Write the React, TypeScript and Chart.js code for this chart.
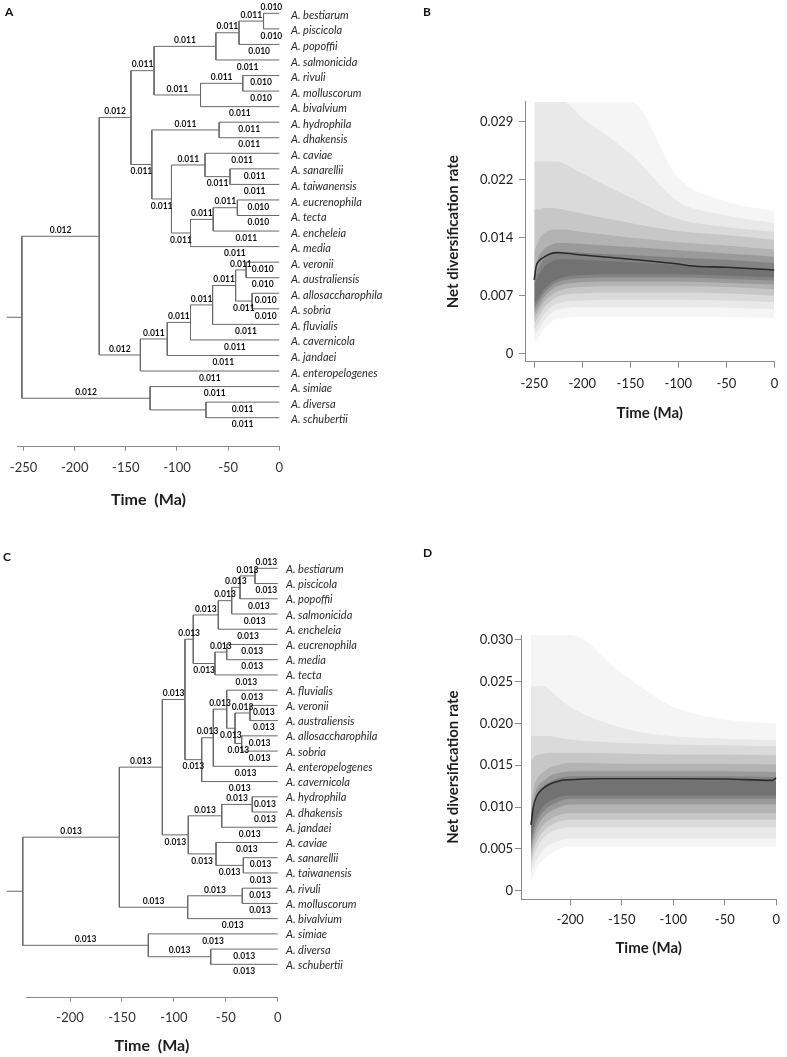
import React, { useEffect, useRef } from 'react';
import { Chart, registerables } from 'chart.js';

Chart.register(...registerables);
Chart.defaults.font.family = 'Lato, "Open Sans", sans-serif';

// ======================= DATA =======================
// ---- Panel A: time-calibrated tree (name, child1, child2, node age in Ma, branch rate, label side) ----
const TIPS_A = [
  'A. bestiarum', 'A. piscicola', 'A. popoffii', 'A. salmonicida', 'A. rivuli', 'A. molluscorum',
  'A. bivalvium', 'A. hydrophila', 'A. dhakensis', 'A. caviae', 'A. sanarellii', 'A. taiwanensis',
  'A. eucrenophila', 'A. tecta', 'A. encheleia', 'A. media', 'A. veronii', 'A. australiensis',
  'A. allosaccharophila', 'A. sobria', 'A. fluvialis', 'A. cavernicola', 'A. jandaei',
  'A. enteropelogenes', 'A. simiae', 'A. diversa', 'A. schubertii',
];
const TIP_RATES_A = [
  '0.010', '0.010', '0.010', '0.011', '0.010', '0.010', '0.011', '0.011', '0.011', '0.011',
  '0.011', '0.011', '0.010', '0.010', '0.011', '0.011', '0.010', '0.010', '0.010', '0.010',
  '0.011', '0.011', '0.011', '0.011', '0.011', '0.011', '0.011',
];
const TIP_LABEL_ABOVE_A = [0];
const NODES_A: [string, number | string, number | string, number, string, string][] = [
  ['N6', 0, 1, -15.4, '0.011', 'a'],
  ['N5', 'N6', 2, -39.4, '0.011', 'a'],
  ['N4', 'N5', 3, -62.0, '0.011', 'a'],
  ['N8', 4, 5, -35.7, '0.011', 'a'],
  ['N7', 'N8', 6, -77.0, '0.011', 'a'],
  ['N3', 'N4', 'N7', -122.4, '0.011', 'a'],
  ['N10', 7, 8, -58.8, '0.011', 'a'],
  ['N13', 10, 11, -48.2, '0.011', 'b'],
  ['N12', 9, 'N13', -72.6, '0.011', 'a'],
  ['N16', 12, 13, -41.0, '0.011', 'a'],
  ['N15', 'N16', 14, -64.6, '0.011', 'a'],
  ['N14', 'N15', 15, -86.8, '0.011', 'b'],
  ['N11', 'N12', 'N14', -105.4, '0.011', 'b'],
  ['N9', 'N10', 'N11', -124.6, '0.011', 'b'],
  ['N2', 'N3', 'N9', -145.0, '0.012', 'a'],
  ['N22', 16, 17, -32.4, '0.011', 'a'],
  ['N23', 18, 19, -26.6, '0.011', 'b'],
  ['N21', 'N22', 'N23', -42.7, '0.011', 'a'],
  ['N20', 'N21', 20, -65.2, '0.011', 'a'],
  ['N19', 'N20', 21, -86.8, '0.011', 'a'],
  ['N18', 'N19', 22, -109.5, '0.011', 'a'],
  ['N17', 'N18', 23, -135.8, '0.012', 'a'],
  ['N1', 'N2', 'N17', -176.0, '0.012', 'a'],
  ['N25', 25, 26, -71.7, '', ''],
  ['N24', 24, 'N25', -126.3, '0.012', 'a'],
  ['ROOT', 'N1', 'N24', -251.6, '', ''],
];
const ROOT_EDGE_START_A = -266.4;
const TICKS_A = [-250, -200, -150, -100, -50, 0];

// ---- Panel C: second tree ----
const TIPS_C = [
  'A. bestiarum', 'A. piscicola', 'A. popoffii', 'A. salmonicida', 'A. encheleia', 'A. eucrenophila',
  'A. media', 'A. tecta', 'A. fluvialis', 'A. veronii', 'A. australiensis', 'A. allosaccharophila',
  'A. sobria', 'A. enteropelogenes', 'A. cavernicola', 'A. hydrophila', 'A. dhakensis', 'A. jandaei',
  'A. caviae', 'A. sanarellii', 'A. taiwanensis', 'A. rivuli', 'A. molluscorum', 'A. bivalvium',
  'A. simiae', 'A. diversa', 'A. schubertii',
];
const TIP_RATES_C = TIPS_C.map(() => '0.013');
const TIP_LABEL_ABOVE_C = [0];
const NODES_C: [string, number | string, number | string, number, string, string][] = [
  ['C8', 0, 1, -21.9, '0.013', 'a'],
  ['C7', 'C8', 2, -36.3, '0.013', 'a'],
  ['C6', 'C7', 3, -44.3, '0.013', 'a'],
  ['C5', 'C6', 4, -57.2, '0.013', 'a'],
  ['C10', 5, 6, -49.1, '0.013', 'a'],
  ['C9', 'C10', 7, -60.4, '0.013', 'b'],
  ['C4', 'C5', 'C9', -81.3, '0.013', 'a'],
  ['C14', 9, 10, -26.7, '0.013', 'a'],
  ['C15', 11, 12, -34.7, '0.013', 'b'],
  ['C13', 'C14', 'C15', -41.1, '0.013', 'b'],
  ['C12', 8, 'C13', -49.1, '0.013', 'a'],
  ['C16', 'C12', 13, -62.0, '0.013', 'a'],
  ['C17', 'C16', 14, -73.2, '0.013', 'b'],
  ['C3', 'C4', 'C17', -89.3, '0.013', 'a'],
  ['C21', 15, 16, -24.5, '0.013', 'a'],
  ['C19', 'C21', 17, -53.9, '0.013', 'a'],
  ['C22', 19, 20, -33.1, '0.013', 'b'],
  ['C20', 18, 'C22', -59.4, '0.013', 'b'],
  ['C18', 'C19', 'C20', -86.1, '0.013', 'b'],
  ['C2', 'C3', 'C18', -111.1, '0.013', 'a'],
  ['C24', 21, 22, -34.1, '0.013', 'a'],
  ['C23', 'C24', 23, -86.7, '0.013', 'a'],
  ['C1', 'C2', 'C23', -152.5, '0.013', 'a'],
  ['C26', 25, 26, -64.5, '0.013', 'a'],
  ['C25', 24, 'C26', -124.6, '0.013', 'a'],
  ['ROOT', 'C1', 'C25', -245.5, '', ''],
];
const ROOT_EDGE_START_C = -261;
const TICKS_C = [-200, -150, -100, -50, 0];

// ---- Panel B: net diversification rate through time ----
const B_TIME = [-250, -248, -244, -240, -234, -225, -217, -200, -150, -100, -89, -50, 0];
const B_MEAN = [0.00918, 0.01085, 0.01168, 0.01202, 0.01243, 0.0126, 0.01252, 0.01231, 0.01177, 0.01118, 0.01097, 0.01077, 0.01043];
const B_BAND_TIME = [-250, -245, -240, -230, -220, -200, -150, -100, -50, 0];
// density bands, outermost first (lower / upper bounds)
const B_BAND_LO = [
  [0.0012, 0.002, 0.003, 0.0041, 0.0044, 0.0046, 0.0046, 0.0046, 0.0045, 0.0044],
  [0.0022, 0.003, 0.004, 0.0052, 0.0056, 0.0058, 0.0058, 0.0058, 0.0057, 0.0055],
  [0.003, 0.0039, 0.0049, 0.006, 0.0064, 0.0066, 0.0067, 0.0067, 0.0066, 0.0064],
  [0.0037, 0.0047, 0.0057, 0.0068, 0.0073, 0.0075, 0.0076, 0.0076, 0.0075, 0.0072],
  [0.0044, 0.0054, 0.0064, 0.0075, 0.008, 0.0083, 0.0084, 0.0084, 0.0083, 0.008],
  [0.005, 0.006, 0.007, 0.0081, 0.0086, 0.0089, 0.009, 0.009, 0.0088, 0.0086],
  [0.0056, 0.0066, 0.0075, 0.0086, 0.0091, 0.0094, 0.0095, 0.0095, 0.0093, 0.0091],
  [0.0061, 0.0071, 0.008, 0.009, 0.0095, 0.0098, 0.0099, 0.0099, 0.0097, 0.0095],
];
const B_BAND_HI = [
  [0.0315, 0.0315, 0.0315, 0.0315, 0.0315, 0.0315, 0.0315, 0.022, 0.019, 0.0178],
  [0.0315, 0.0315, 0.0315, 0.0315, 0.0315, 0.0295, 0.025, 0.019, 0.0173, 0.0163],
  [0.024, 0.024, 0.024, 0.024, 0.0238, 0.0225, 0.0195, 0.0168, 0.0158, 0.0152],
  [0.018, 0.018, 0.0182, 0.0182, 0.018, 0.0175, 0.0163, 0.0153, 0.0148, 0.0142],
  [0.0128, 0.0142, 0.015, 0.0155, 0.0155, 0.0152, 0.0145, 0.0139, 0.0135, 0.013],
  [0.0105, 0.0122, 0.013, 0.0137, 0.0138, 0.0137, 0.0133, 0.0129, 0.0125, 0.0121],
  [0.0094, 0.0108, 0.0118, 0.0126, 0.0127, 0.0126, 0.0123, 0.012, 0.0117, 0.0113],
  [0.0087, 0.0099, 0.0108, 0.0116, 0.0118, 0.0117, 0.0114, 0.0111, 0.0108, 0.0105],
];
const B_X_TICKS = [-250, -200, -150, -100, -50, 0];
const B_Y_TICKS = [0, 0.00725, 0.0145, 0.02175, 0.029];
const B_Y_LABELS = ['0', '0.007', '0.014', '0.022', '0.029'];

// ---- Panel D: net diversification rate through time ----
const D_TIME = [-238, -235.6, -232.4, -227.6, -219.6, -210, -200, -172, -100, -50, -4, 0];
const D_MEAN = [0.00788, 0.01008, 0.0113, 0.01208, 0.01276, 0.01316, 0.01328, 0.0134, 0.0134, 0.01336, 0.0132, 0.01348];
const D_BAND_TIME = [-238, -235, -230, -225, -220, -210, -200, -150, -100, -50, 0];
const D_BAND_LO = [
  [0.0012, 0.002, 0.0032, 0.0038, 0.0043, 0.005, 0.0053, 0.0053, 0.0053, 0.0053, 0.0053],
  [0.002, 0.003, 0.0042, 0.005, 0.0055, 0.006, 0.0062, 0.0062, 0.0062, 0.0062, 0.0062],
  [0.0028, 0.0042, 0.0056, 0.0064, 0.0069, 0.0074, 0.0076, 0.0076, 0.0076, 0.0076, 0.0076],
  [0.0034, 0.005, 0.0064, 0.0072, 0.0077, 0.0083, 0.0085, 0.0085, 0.0085, 0.0085, 0.0085],
  [0.004, 0.0057, 0.0072, 0.008, 0.0085, 0.0091, 0.0093, 0.0093, 0.0093, 0.0093, 0.0093],
  [0.0047, 0.0065, 0.0081, 0.0089, 0.0094, 0.01, 0.0103, 0.0103, 0.0103, 0.0103, 0.0103],
  [0.0053, 0.0072, 0.0088, 0.0096, 0.0101, 0.0107, 0.011, 0.011, 0.011, 0.011, 0.011],
  [0.0058, 0.0078, 0.0094, 0.0102, 0.0107, 0.0112, 0.0114, 0.0114, 0.0114, 0.0114, 0.0114],
];
const D_BAND_HI = [
  [0.0306, 0.0306, 0.0306, 0.0306, 0.0306, 0.0306, 0.0306, 0.026, 0.022, 0.0205, 0.02],
  [0.0245, 0.0245, 0.0245, 0.0245, 0.024, 0.023, 0.022, 0.0195, 0.0185, 0.0182, 0.018],
  [0.0185, 0.0185, 0.0185, 0.0185, 0.0185, 0.0183, 0.0181, 0.0177, 0.0175, 0.0174, 0.0173],
  [0.0155, 0.016, 0.0163, 0.0164, 0.0165, 0.0165, 0.0165, 0.0164, 0.0163, 0.0163, 0.0162],
  [0.0105, 0.0125, 0.0138, 0.0143, 0.0147, 0.0151, 0.0153, 0.0152, 0.0152, 0.0152, 0.0151],
  [0.0092, 0.0112, 0.0127, 0.0132, 0.0137, 0.0141, 0.0143, 0.0143, 0.0143, 0.0143, 0.0142],
  [0.0084, 0.0104, 0.012, 0.0126, 0.013, 0.0135, 0.0137, 0.0137, 0.0137, 0.0137, 0.0136],
  [0.0078, 0.0098, 0.0115, 0.0121, 0.0126, 0.0131, 0.0132, 0.0132, 0.0132, 0.0132, 0.0131],
];
const D_X_TICKS = [-200, -150, -100, -50, 0];
const D_Y_TICKS = [0, 0.005, 0.01, 0.015, 0.02, 0.025, 0.03];
const D_Y_LABELS = ['0', '0.005', '0.010', '0.015', '0.020', '0.025', '0.030'];

const BAND_ALPHA = [0.04, 0.05, 0.065, 0.085, 0.11, 0.14, 0.15, 0.14];

// ======================= STYLE =======================
const TREE_COLOR = '#6a6a6a';
const AXIS_COLOR = '#8a8a8a';
const TEXT_COLOR = '#1e1e1e';

// ======================= HELPERS =======================
type NodeRow = [string, number | string, number | string, number, string, string];

function buildTree(tipRates: string[], tipAbove: number[], nodes: NodeRow[], rootStart: number) {
  const rows = new Map(nodes.map((r) => [r[0], r]));
  const info = (c: number | string): { y: number; age: number; rate: string; side: string } => {
    if (typeof c === 'number') {
      return { y: c, age: 0, rate: tipRates[c], side: tipAbove.includes(c) ? 'a' : 'b' };
    }
    const r = rows.get(c)!;
    const a = info(r[1]);
    const b = info(r[2]);
    return { y: (a.y + b.y) / 2, age: r[3], rate: r[4], side: r[5] };
  };
  const points: { x: number; y: number | null }[] = [];
  const labels: { t: number; y: number; text: string; above: boolean }[] = [];
  for (const r of nodes) {
    const a = info(r[1]);
    const b = info(r[2]);
    const age = r[3];
    points.push({ x: a.age, y: a.y }, { x: age, y: a.y }, { x: age, y: b.y }, { x: b.age, y: b.y }, { x: 0, y: null });
    for (const c of [a, b]) {
      if (c.rate) labels.push({ t: (age + c.age) / 2, y: c.y, text: c.rate, above: c.side === 'a' });
    }
  }
  const root = nodes[nodes.length - 1];
  const ri = info(root[0]);
  points.push({ x: rootStart, y: ri.y }, { x: root[3], y: ri.y });
  return { points, labels };
}

function treeTextPlugin(tree: ReturnType<typeof buildTree>, tips: string[], tipDx: number, tipDy: number) {
  return {
    id: 'treeText',
    afterDatasetsDraw(chart: any) {
      const { ctx } = chart;
      const x = chart.scales.x;
      const y = chart.scales.y;
      ctx.save();
      ctx.fillStyle = '#111';
      ctx.font = 'bold 8.5px Lato, sans-serif';
      ctx.textAlign = 'center';
      ctx.textBaseline = 'middle';
      for (const l of tree.labels) {
        ctx.fillText(l.text, x.getPixelForValue(l.t), y.getPixelForValue(l.y) + (l.above ? -6 : 7));
      }
      ctx.fillStyle = '#2a2a2a';
      ctx.font = 'italic 11px Lato, sans-serif';
      ctx.textAlign = 'left';
      tips.forEach((name, i) => {
        ctx.fillText(name, x.getPixelForValue(0) + tipDx, y.getPixelForValue(i) + tipDy);
      });
      ctx.restore();
    },
  };
}

function treeConfig(p: {
  tips: string[]; rates: string[]; above: number[]; nodes: NodeRow[]; rootStart: number; ticks: number[];
  padding: any; xAxisH: number; xmin: number; ymin: number; ymax: number; tickPad: number;
  titlePadBottom: number; tipDx: number; tipDy: number;
}): any {
  const tree = buildTree(p.rates, p.above, p.nodes, p.rootStart);
  return {
    type: 'line',
    data: {
      datasets: [{
        data: tree.points, borderColor: TREE_COLOR, borderWidth: 1, pointRadius: 0,
        spanGaps: false, tension: 0, clip: false, fill: false,
      }],
    },
    options: {
      animation: false, responsive: false, devicePixelRatio: 1, events: [],
      layout: { padding: p.padding },
      plugins: { legend: { display: false }, tooltip: { enabled: false } },
      scales: {
        x: {
          type: 'linear', min: p.xmin, max: 0,
          afterBuildTicks: (s: any) => { s.ticks = p.ticks.map((v) => ({ value: v })); },
          afterFit: (s: any) => { s.height = p.xAxisH; },
          grid: { drawOnChartArea: false, drawTicks: true, tickLength: 4, color: AXIS_COLOR },
          border: { display: true, color: AXIS_COLOR, width: 1 },
          ticks: { autoSkip: false, maxRotation: 0, padding: p.tickPad, color: '#333', font: { size: 13 } },
          title: {
            display: true, text: 'Time  (Ma)', color: TEXT_COLOR,
            font: { size: 16, weight: 'bold', lineHeight: 1.2 }, padding: { top: 0, bottom: p.titlePadBottom },
          },
        },
        y: { type: 'linear', display: false, reverse: true, min: p.ymin, max: p.ymax },
      },
    },
    plugins: [treeTextPlugin(tree, p.tips, p.tipDx, p.tipDy)],
  };
}

function rttConfig(p: {
  time: number[]; mean: number[]; bandTime: number[]; lo: number[][]; hi: number[][];
  xTicks: number[]; yTicks: number[]; yLabels: string[]; padding: any; yAxisW: number; xAxisH: number;
  xmin: number; ymin: number; ymax: number; xTickPad: number; yTickPad: number; xTitlePad: number; yTitlePad: number;
}): any {
  const datasets: any[] = [{
    data: p.time.map((t, i) => ({ x: t, y: p.mean[i] })),
    borderColor: '#2a2a2a', borderWidth: 1.6, pointRadius: 0, fill: false,
    cubicInterpolationMode: 'monotone',
  }];
  p.lo.forEach((lo, k) => {
    datasets.push({
      data: p.bandTime.map((t, i) => ({ x: t, y: lo[i] })),
      borderColor: 'rgba(0,0,0,0)', borderWidth: 0, pointRadius: 0, fill: false,
      cubicInterpolationMode: 'monotone',
    });
    datasets.push({
      data: p.bandTime.map((t, i) => ({ x: t, y: p.hi[k][i] })),
      borderColor: 'rgba(0,0,0,0)', borderWidth: 0, pointRadius: 0, fill: '-1',
      backgroundColor: `rgba(0,0,0,${BAND_ALPHA[k]})`, cubicInterpolationMode: 'monotone',
    });
  });
  return {
    type: 'line',
    data: { datasets },
    options: {
      animation: false, responsive: false, devicePixelRatio: 1, events: [],
      layout: { padding: p.padding },
      plugins: { legend: { display: false }, tooltip: { enabled: false }, filler: { propagate: false } },
      scales: {
        x: {
          type: 'linear', min: p.xmin, max: 0,
          afterBuildTicks: (s: any) => { s.ticks = p.xTicks.map((v) => ({ value: v })); },
          afterFit: (s: any) => { s.height = p.xAxisH; },
          grid: { drawOnChartArea: false, drawTicks: true, tickLength: 6, color: AXIS_COLOR },
          border: { display: true, color: AXIS_COLOR, width: 1 },
          ticks: { autoSkip: false, maxRotation: 0, padding: p.xTickPad, color: '#222', font: { size: 13 } },
          title: {
            display: true, text: 'Time (Ma)', color: TEXT_COLOR,
            font: { size: 15, weight: 'bold', lineHeight: 1.2 }, padding: { top: 0, bottom: p.xTitlePad },
          },
        },
        y: {
          type: 'linear', min: p.ymin, max: p.ymax,
          afterBuildTicks: (s: any) => { s.ticks = p.yTicks.map((v) => ({ value: v })); },
          afterFit: (s: any) => { s.width = p.yAxisW; },
          grid: { drawOnChartArea: false, drawTicks: true, tickLength: 6, color: AXIS_COLOR },
          border: { display: true, color: AXIS_COLOR, width: 1 },
          ticks: {
            autoSkip: false, padding: p.yTickPad, color: '#222', font: { size: 13 },
            callback: (_v: any, i: number) => p.yLabels[i],
          },
          title: {
            display: true, text: 'Net diversification rate', color: TEXT_COLOR,
            font: { size: 15, weight: 'bold', lineHeight: 1.2 }, padding: { top: p.yTitlePad, bottom: 0 },
          },
        },
      },
    },
  };
}

// ======================= COMPONENTS =======================
function ChartCanvas({ left, top, width, height, make }: { left: number; top: number; width: number; height: number; make: () => any }) {
  const ref = useRef<HTMLCanvasElement>(null);
  useEffect(() => {
    const chart = new Chart(ref.current!, make());
    return () => chart.destroy();
  }, []);
  return (
    <canvas ref={ref} width={width} height={height}
      style={{ position: 'absolute', left, top, width, height, display: 'block' }} />
  );
}

const makeA = () => treeConfig({
  tips: TIPS_A, rates: TIP_RATES_A, above: TIP_LABEL_ABOVE_A, nodes: NODES_A, rootStart: ROOT_EDGE_START_A,
  ticks: TICKS_A, padding: { left: 14, right: 110.7, top: 5, bottom: 0 }, xAxisH: 73.3, xmin: -255.8,
  ymin: -0.535, ymax: 27.865, tickPad: 9.5, titlePadBottom: 10.4, tipDx: 11.7, tipDy: 2,
});

const makeC = () => treeConfig({
  tips: TIPS_C, rates: TIP_RATES_C, above: TIP_LABEL_ABOVE_C, nodes: NODES_C, rootStart: ROOT_EDGE_START_C,
  ticks: TICKS_C, padding: { left: 26, right: 112.3, top: 20, bottom: 0 }, xAxisH: 59.3, xmin: -242.4,
  ymin: -0.545, ymax: 28.19, tickPad: 8.2, titlePadBottom: 1.4, tipDx: 8.3, tipDy: 1,
});

const makeB = () => rttConfig({
  time: B_TIME, mean: B_MEAN, bandTime: B_BAND_TIME, lo: B_BAND_LO, hi: B_BAND_HI,
  xTicks: B_X_TICKS, yTicks: B_Y_TICKS, yLabels: B_Y_LABELS,
  padding: { left: 0, right: 11.3, top: 101.7, bottom: 0 }, yAxisW: 125, xAxisH: 68.3,
  xmin: -259.6, ymin: -0.00105, ymax: 0.0315, xTickPad: 8.8, yTickPad: 5.7, xTitlePad: 8, yTitlePad: 44.3,
});

const makeD = () => rttConfig({
  time: D_TIME, mean: D_MEAN, bandTime: D_BAND_TIME, lo: D_BAND_LO, hi: D_BAND_HI,
  xTicks: D_X_TICKS, yTicks: D_Y_TICKS, yLabels: D_Y_LABELS,
  padding: { left: 0, right: 6, top: 95, bottom: 0 }, yAxisW: 121, xAxisH: 70.7,
  xmin: -247.7, ymin: -0.00103, ymax: 0.03059, xTickPad: 6.9, yTickPad: 2, xTitlePad: 12.7, yTitlePad: 44.3,
});

const letter = (left: number, top: number): React.CSSProperties => ({
  position: 'absolute', left, top, fontFamily: 'Lato, sans-serif', fontWeight: 'bold',
  fontSize: 12, lineHeight: '12px', color: '#111',
});

export default function App() {
  return (
    <div style={{ position: 'absolute', left: 0, top: 0, width: 787, height: 1057, background: '#fff', overflow: 'hidden' }}>
      <ChartCanvas left={0} top={0} width={390} height={520} make={makeA} />
      <ChartCanvas left={400} top={0} width={387} height={430} make={makeB} />
      <ChartCanvas left={0} top={540} width={390} height={517} make={makeC} />
      <ChartCanvas left={400} top={540} width={387} height={430} make={makeD} />
      <div style={letter(5, 6)}>A</div>
      <div style={letter(423, 6)}>B</div>
      <div style={letter(3, 551)}>C</div>
      <div style={letter(423, 547)}>D</div>
    </div>
  );
}
